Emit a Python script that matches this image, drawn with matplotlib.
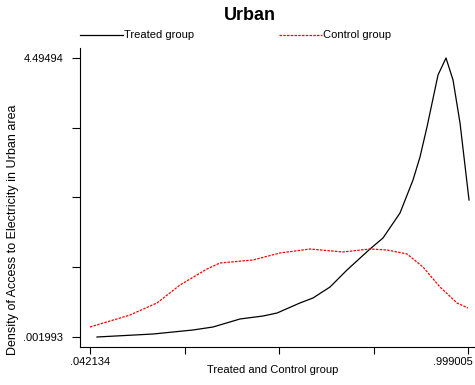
import matplotlib
matplotlib.use("Agg")
import matplotlib.pyplot as plt
import matplotlib.transforms as mtransforms
import numpy as np

# values
treated_x = [0.0598, 0.2016, 0.3029, 0.3535, 0.4218, 0.4801, 0.5155, 0.5737, 0.6066,
             0.6497, 0.6927, 0.7509, 0.7838, 0.8269, 0.8598, 0.8775, 0.8952, 0.9231,
             0.9433, 0.9611, 0.9788, 1.0016]
treated_y = [0.002, 0.050, 0.115, 0.163, 0.292, 0.340, 0.388, 0.550, 0.630,
             0.807, 1.081, 1.419, 1.596, 1.999, 2.530, 2.901, 3.384, 4.221,
             4.495, 4.141, 3.448, 2.208]

control_x = [0.0421, 0.1434, 0.2117, 0.2699, 0.3383, 0.3712, 0.4547, 0.5231, 0.5990,
             0.6826, 0.7509, 0.7940, 0.8446, 0.8851, 0.9281, 0.9712, 0.9990]
control_y = [0.163, 0.356, 0.550, 0.839, 1.097, 1.194, 1.242, 1.355, 1.419,
             1.371, 1.419, 1.403, 1.339, 1.129, 0.807, 0.550, 0.469]

x_min, x_max = 0.042134, 0.999005
y_min, y_max = 0.001993, 4.49494

plt.rcParams['font.family'] = ['Liberation Sans', 'DejaVu Sans']

fig = plt.figure(figsize=(4.75, 3.85), dpi=100)
ax = fig.add_axes([80/475, 38/385, 395/475, 299/385])

ax.plot(treated_x, treated_y, color='black', lw=0.9)
ax.plot(control_x, control_y, color='red', lw=0.9, linestyle=(0, (2, 1)))

# axis limits so the labelled ticks sit inside the plot region
dx = (x_max - x_min) / 378
dy = (y_max - y_min) / 279
ax.set_xlim(x_min - 10 * dx, x_min + 385 * dx)
ax.set_ylim(y_min - 10 * dy, y_min + 289 * dy)

xt = np.linspace(x_min, x_max, 5)
yt = np.linspace(y_min, y_max, 5)
ax.set_xticks(xt)
ax.set_xticklabels(['.042134', '', '', '', '.999005'])
ax.set_yticks(yt)
ax.set_yticklabels(['.001993', '', '', '', '4.49494'])

ax.spines['top'].set_visible(False)
ax.spines['right'].set_visible(False)
ax.tick_params(axis='x', length=5, width=0.8, pad=2, labelsize=8)
ax.tick_params(axis='y', length=6, width=0.8, pad=6, labelsize=8)

# last x label is pulled left so it stays inside the figure
last = ax.get_xticklabels()[-1]
last.set_transform(last.get_transform() +
                   mtransforms.ScaledTranslation(-15/100, 0, fig.dpi_scale_trans))

ax.set_xlabel('Treated and Control group', fontsize=8)
ax.xaxis.set_label_coords((273 - 80) / 395, -0.06)
ax.set_ylabel('Density of Access to Electricity in Urban area', fontsize=9)
ax.yaxis.set_label_coords(-(80 - 19) / 395, (347 - 230) / 299)

fig.text(250/475, 1 - 15/385, 'Urban', fontsize=13, fontweight='bold',
         ha='center', va='center')

# legend drawn at the top like the original
fig.lines.append(plt.Line2D([80/475, 123/475], [1 - 35/385] * 2, color='black',
                            lw=0.9, transform=fig.transFigure))
fig.text(124/475, 1 - 35/385, 'Treated group', fontsize=8, va='center')
fig.lines.append(plt.Line2D([279/475, 322/475], [1 - 35/385] * 2, color='red',
                            lw=0.9, linestyle=(0, (2, 1)), transform=fig.transFigure))
fig.text(323/475, 1 - 35/385, 'Control group', fontsize=8, va='center')

fig.savefig('out.png', dpi=100)
